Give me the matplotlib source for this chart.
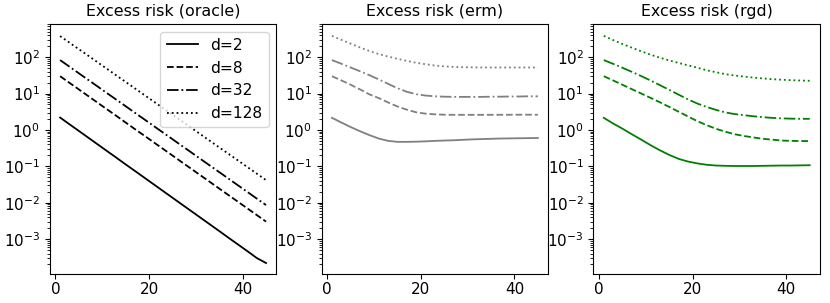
import matplotlib
matplotlib.use("Agg")
import matplotlib.pyplot as plt
from matplotlib.ticker import FixedLocator

# iterations (every other step)
x = [1, 3, 5, 7, 9, 11, 13, 15, 17, 19, 21, 23, 25, 27, 29, 31, 33, 35, 37, 39, 41, 43, 45]

dims = ["d=2", "d=8", "d=32", "d=128"]
styles = ["-", "--", "-.", ":"]

# oracle
oracle_d2 = [2.19, 1.43, 0.94, 0.615, 0.403, 0.264, 0.173, 0.113, 0.0743, 0.0487, 0.0319, 0.0209,
             0.0137, 0.00898, 0.00589, 0.00386, 0.00253, 0.00166, 0.00108, 0.000711, 0.000466,
             0.000302, 0.000219]
oracle_d8 = [30, 19.7, 13.0, 8.55, 5.62, 3.70, 2.44, 1.60, 1.05, 0.695, 0.457, 0.301, 0.198, 0.130,
             0.0857, 0.0564, 0.0372, 0.0244, 0.0161, 0.0106, 0.00697, 0.00458, 0.00302]
oracle_d32 = [83.2, 54.8, 36.1, 23.8, 15.7, 10.3, 6.81, 4.49, 2.95, 1.95, 1.28, 0.845, 0.557, 0.366,
              0.242, 0.159, 0.105, 0.0692, 0.0455, 0.030, 0.0198, 0.0130, 0.00859]
oracle_d128 = [380, 251, 166, 110, 72.4, 47.9, 31.6, 20.9, 13.8, 9.12, 6.03, 3.98, 2.63, 1.74, 1.15,
               0.759, 0.501, 0.331, 0.219, 0.145, 0.0955, 0.0631, 0.0417]

# erm
erm_d2 = [2.15, 1.6, 1.2, 0.92, 0.72, 0.58, 0.5, 0.47, 0.47, 0.475, 0.485, 0.5, 0.51, 0.52, 0.535,
          0.55, 0.56, 0.57, 0.58, 0.585, 0.59, 0.595, 0.6]
erm_d8 = [30, 23, 17.5, 13, 9.5, 7.5, 5.7, 4.4, 3.6, 3.05, 2.8, 2.68, 2.62, 2.6, 2.6, 2.6, 2.6, 2.6,
          2.61, 2.61, 2.62, 2.62, 2.62]
erm_d32 = [83, 66, 52, 41, 32, 24.5, 18.5, 14, 11.2, 9.6, 8.8, 8.4, 8.2, 8.1, 8.1, 8.1, 8.1, 8.2,
           8.2, 8.3, 8.3, 8.4, 8.4]
erm_d128 = [385, 300, 235, 185, 148, 122, 104, 90, 79, 70, 64, 59, 56, 54, 53, 52.5, 52, 52, 52,
            52, 52, 52, 52]

# rgd
rgd_d2 = [2.15, 1.5, 1.08, 0.76, 0.54, 0.38, 0.275, 0.205, 0.16, 0.135, 0.12, 0.11, 0.105, 0.103,
          0.102, 0.102, 0.102, 0.103, 0.104, 0.105, 0.105, 0.106, 0.107]
rgd_d8 = [30, 22.9, 17.4, 13.2, 10, 7.6, 5.75, 4.27, 3.16, 2.34, 1.74, 1.35, 1.07, 0.89, 0.76,
          0.68, 0.62, 0.57, 0.54, 0.51, 0.50, 0.495, 0.493]
rgd_d32 = [83.2, 65.5, 51.0, 39.5, 30.2, 22.8, 17.0, 12.6, 9.3, 6.9, 5.3, 4.27, 3.55, 3.02,
           2.72, 2.54, 2.37, 2.24, 2.14, 2.08, 2.04, 2.02, 2.02]
rgd_d128 = [385, 295, 229, 182, 145, 117, 96.6, 81.3, 69.2, 59.6, 51.3, 43.7, 38.5, 34.1, 31.3,
            29.2, 27.5, 26.0, 24.8, 24.0, 23.3, 22.8, 22.4]

yticks = [1e-3, 1e-2, 1e-1, 1e0, 1e1, 1e2]

panels = [
    ("Excess risk (oracle)", "black", [oracle_d2, oracle_d8, oracle_d32, oracle_d128]),
    ("Excess risk (erm)", "gray", [erm_d2, erm_d8, erm_d32, erm_d128]),
    ("Excess risk (rgd)", "green", [rgd_d2, rgd_d8, rgd_d32, rgd_d128]),
]

plt.rcParams["font.size"] = 11

fig, axes = plt.subplots(1, 3, figsize=(8.3, 3.03), dpi=100, sharey=True)
fig.subplots_adjust(left=0.060, right=0.988, bottom=0.096, top=0.921, wspace=0.2)

for ax, (title, color, series) in zip(axes, panels):
    for ys, ls, lab in zip(series, styles, dims):
        ax.plot(x, ys, color=color, linestyle=ls, label=lab, linewidth=1.3)
    ax.set_yscale("log")
    ax.yaxis.set_major_locator(FixedLocator(yticks))
    ax.set_title(title, fontsize=11.4)
    ax.set_xticks([0, 20, 40])
    ax.tick_params(labelleft=True, labelsize=11)
    ax.tick_params(axis="x", pad=2)

axes[0].set_ylim(1.1e-4, 820)
axes[0].legend(loc="upper right", fontsize=11.2)

fig.savefig("out.png")
